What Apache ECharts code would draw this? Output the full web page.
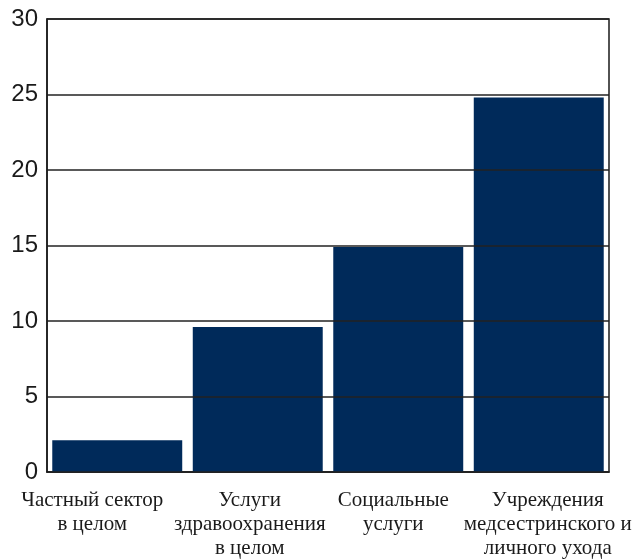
<!DOCTYPE html>
<html>
<head>
<meta charset="utf-8">
<script src="https://cdn.jsdelivr.net/npm/echarts@6/dist/echarts.min.js"></script>
<style>
	html, body { margin: 0; padding: 0; background: #fff; }
	#chart { width: 639px; height: 560px; }
</style>
</head>
<body>
<div id="chart"></div>
<script>
// данные графика
var categories = [
	'Частный сектор\nв целом',
	'Услуги\nздравоохранения\nв целом',
	'Социальные\nуслуги',
	'Учреждения\nмедсестринского и\nличного ухода'
];
var values = [2.1, 9.6, 14.9, 24.8];
// сдвиг подписей по горизонтали (в исходнике они не по центру)
var labelShift = [-25, -8, -5, 9];
var yTicks = [0, 5, 10, 15, 20, 25, 30];

var chart = echarts.init(document.getElementById('chart'));

var xData = categories.map(function (name, i) {
	var s = labelShift[i];
	return {
		value: name,
		textStyle: {
			padding: s < 0 ? [0, -2 * s, 0, 0] : [0, 0, 0, 2 * s]
		}
	};
});

chart.setOption({
	animation: false,
	grid: {
		left: 47,
		right: 30,
		top: 19,
		bottom: 82,
		show: true,
		borderColor: '#1a1a1a',
		borderWidth: 1.5,
		containLabel: false
	},
	xAxis: {
		type: 'category',
		data: xData,
		axisTick: { show: false },
		axisLine: {
			lineStyle: { color: '#1a1a1a', width: 1.5 }
		},
		axisLabel: {
			interval: 0,
			margin: 16,
			color: '#1a1a1a',
			fontFamily: 'Liberation Serif',
			fontSize: 21,
			lineHeight: 24
		}
	},
	yAxis: {
		type: 'value',
		min: yTicks[0],
		max: yTicks[yTicks.length - 1],
		interval: 5,
		z: 5, // сетка поверх столбцов
		axisLine: {
			show: true,
			lineStyle: { color: '#1a1a1a', width: 1.5 }
		},
		axisTick: { show: false },
		axisLabel: {
			margin: 9,
			color: '#1a1a1a',
			fontFamily: 'Liberation Sans',
			fontSize: 24
		},
		splitLine: {
			lineStyle: { color: '#222', width: 1.5 }
		}
	},
	series: [
		{
			type: 'bar',
			data: values,
			barCategoryGap: '7.5%',
			itemStyle: {
				color: '#002a5a'
			}
		}
	]
});
</script>
</body>
</html>
